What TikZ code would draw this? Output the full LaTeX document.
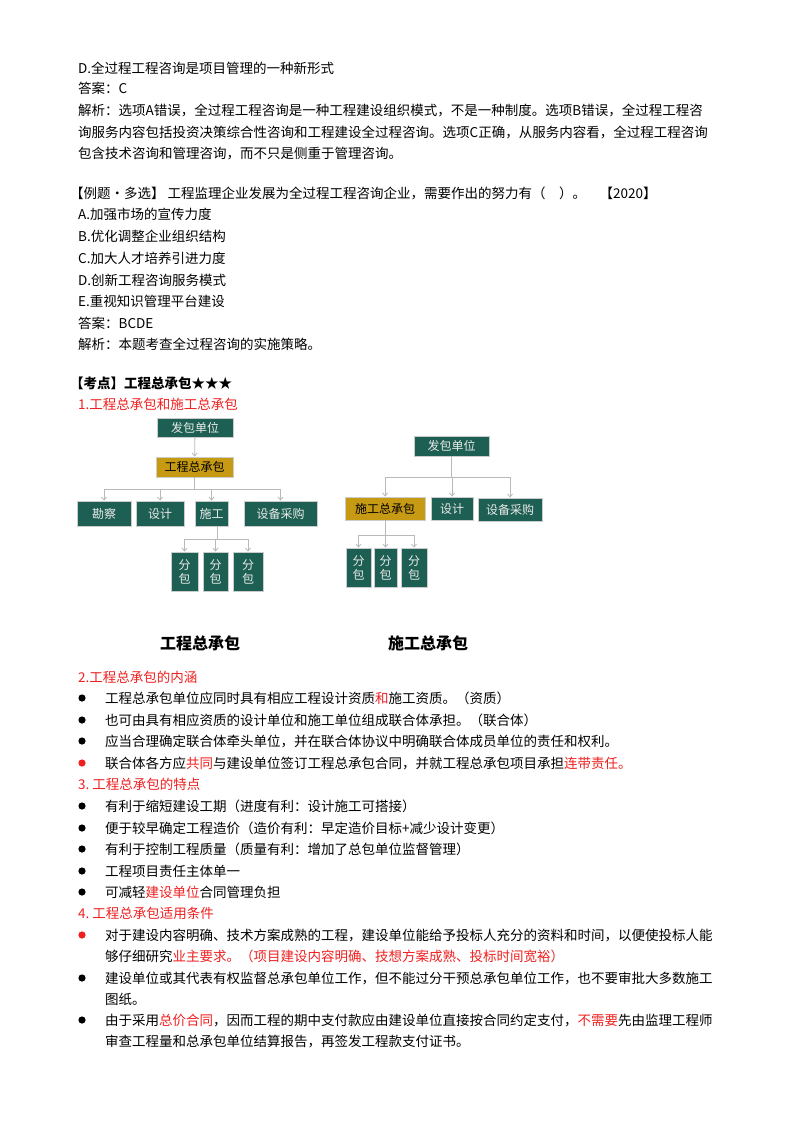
\documentclass[tikz,border=0pt]{standalone}
\usepackage{fontspec}
\setmainfont{Noto Sans CJK SC}
\usetikzlibrary{arrows.meta}
\definecolor{boxgreen}{HTML}{1D5F52}
\definecolor{boxgold}{HTML}{C69A12}
\definecolor{hl}{HTML}{F02020}
\tikzset{
	txt/.style={anchor=west, inner sep=0pt, font=\fontsize{13.5}{13.5}\selectfont},
	red/.style={txt, text=hl},
	box/.style={draw=gray!40, line width=0.8pt, fill=boxgreen, text=white!92!black, inner sep=0pt, font=\fontsize{12}{12}\selectfont},
	gbox/.style={box, fill=boxgold, text=black},
	con/.style={draw=gray!55, line width=0.8pt, -{Straight Barb[length=3pt,width=5pt]}},
}
\newcommand{\bul}[2][black]{\fill[#1] (82,#2) circle (3.6);}
\begin{document}
\begin{tikzpicture}[x=1pt, y=-1pt]
	\useasboundingbox[fill=white] (0,0) rectangle (800,1132);
	% question tail
	\node[txt] (d1) at (78,68) {D.全过程工程咨询是项目管理的一种新形式};
	\node[txt] (a1) at (78,88) {答案：C};
	\node[txt] (j1) at (78,110) {解析：选项A错误，全过程工程咨询是一种工程建设组织模式，不是一种制度。选项B错误，全过程工程咨};
	\node[txt] (j2) at (78,132) {询服务内容包括投资决策综合性咨询和工程建设全过程咨询。选项C正确，从服务内容看，全过程工程咨询};
	\node[txt] (j3) at (78,154) {包含技术咨询和管理咨询，而不只是侧重于管理咨询。};
	% example
	\node[txt] (q0) at (70,193) {【例题·多选】 工程监理企业发展为全过程工程咨询企业，需要作出的努力有（\quad）。\quad【2020】};
	\node[txt] (qa) at (78,214) {A.加强市场的宣传力度};
	\node[txt] (qb) at (78,236) {B.优化调整企业组织结构};
	\node[txt] (qc) at (78,258) {C.加大人才培养引进力度};
	\node[txt] (qd) at (78,280) {D.创新工程咨询服务模式};
	\node[txt] (qe) at (78,301) {E.重视知识管理平台建设};
	\node[txt] (a2) at (78,323) {答案：BCDE};
	\node[txt] (j4) at (78,344) {解析：本题考查全过程咨询的实施策略。};
	\node[txt, font=\fontsize{13.5}{13.5}\selectfont\bfseries] (kd) at (70,383) {【考点】工程总承包★★★};
	\node[red] (h1) at (78,404) {1.工程总承包和施工总承包};
	% left tree
	\node[box, minimum width=76, minimum height=19] (fbL) at (195,428) {发包单位};
	\node[gbox, minimum width=77, minimum height=20] (gz) at (194.5,467) {工程总承包};
	\node[box, minimum width=54, minimum height=25] (kc) at (104,513.5) {勘察};
	\node[box, minimum width=48, minimum height=25] (sjL) at (160,513.5) {设计};
	\node[box, minimum width=33, minimum height=25] (sg) at (211.5,513.5) {施工};
	\node[box, minimum width=73, minimum height=25] (cgL) at (280.5,513.5) {设备采购};
	\node[box, minimum width=27, minimum height=39, align=center] (fL1) at (184.5,571.5) {分\\[2pt]包};
	\node[box, minimum width=25, minimum height=39, align=center] (fL2) at (215.5,571.5) {分\\[2pt]包};
	\node[box, minimum width=30, minimum height=39, align=center] (fL3) at (248,571.5) {分\\[2pt]包};
	\draw[con] (fbL) -- (gz);
	\foreach \c in {kc,sjL,sg,cgL}
		\draw[con] (gz.south) -- ++(0,12) -| (\c.north);
	\foreach \c in {fL1,fL2,fL3}
		\draw[con] ([xshift=5.5pt]sg.south) -- ++(0,13) -| (\c.north);
	% right tree
	\node[box, minimum width=75, minimum height=20] (fbR) at (451.5,446) {发包单位};
	\node[gbox, minimum width=80, minimum height=23] (sz) at (385,508.5) {施工总承包};
	\node[box, minimum width=42, minimum height=23] (sjR) at (452,508.5) {设计};
	\node[box, minimum width=64, minimum height=23] (cgR) at (510,509.5) {设备采购};
	\node[box, minimum width=25, minimum height=39, align=center] (fR1) at (358.5,567.5) {分\\[2pt]包};
	\node[box, minimum width=23, minimum height=39, align=center] (fR2) at (385.5,567.5) {分\\[2pt]包};
	\node[box, minimum width=26, minimum height=39, align=center] (fR3) at (414,567.5) {分\\[2pt]包};
	\foreach \c in {sz,sjR,cgR}
		\draw[con] (fbR.south) -- ++(0,21) -| (\c.north);
	\foreach \c in {fR1,fR2,fR3}
		\draw[con] (sz.south) -- ++(0,15) -| (\c.north);
	\node[font=\fontsize{16}{16}\selectfont\bfseries] (capL) at (200,643) {工程总承包};
	\node[font=\fontsize{16}{16}\selectfont\bfseries] (capR) at (428,643) {施工总承包};
	% section 2
	\node[red] (h2) at (78,677) {2.工程总承包的内涵};
	\bul{698} \node[txt] (b1) at (105,698) {工程总承包单位应同时具有相应工程设计资质\textcolor{hl}{和}施工资质。（资质）};
	\bul{720} \node[txt] (b2) at (105,720) {也可由具有相应资质的设计单位和施工单位组成联合体承担。（联合体）};
	\bul{741} \node[txt] (b3) at (105,741) {应当合理确定联合体牵头单位，并在联合体协议中明确联合体成员单位的责任和权利。};
	\bul[hl]{763} \node[txt] (b4) at (105,763) {联合体各方应\textcolor{hl}{共同}与建设单位签订工程总承包合同，并就工程总承包项目承担\textcolor{hl}{连带责任。}};
	% section 3
	\node[red] (h3) at (78,784) {3.\ 工程总承包的特点};
	\bul{806} \node[txt] (c1) at (105,806) {有利于缩短建设工期（进度有利：设计施工可搭接）};
	\bul{828} \node[txt] (c2) at (105,828) {便于较早确定工程造价（造价有利：早定造价目标+减少设计变更）};
	\bul{849} \node[txt] (c3) at (105,849) {有利于控制工程质量（质量有利：增加了总包单位监督管理）};
	\bul{871} \node[txt] (c4) at (105,871) {工程项目责任主体单一};
	\bul{892} \node[txt] (c5) at (105,892) {可减轻\textcolor{hl}{建设单位}合同管理负担};
	% section 4
	\node[red] (h4) at (78,913) {4.\ 工程总承包适用条件};
	\bul[hl]{935} \node[txt] (e1) at (105,935) {对于建设内容明确、技术方案成熟的工程，建设单位能给予投标人充分的资料和时间，以便使投标人能};
	\node[txt] (e1b) at (105,956) {够仔细研究\textcolor{hl}{业主要求。（项目建设内容明确、技想方案成熟、投标时间宽裕）}};
	\bul{978} \node[txt] (e2) at (105,978) {建设单位或其代表有权监督总承包单位工作，但不能过分干预总承包单位工作，也不要审批大多数施工};
	\node[txt] (e2b) at (105,999) {图纸。};
	\bul{1020} \node[txt] (e3) at (105,1020) {由于采用\textcolor{hl}{总价合同}，因而工程的期中支付款应由建设单位直接按合同约定支付，\textcolor{hl}{不需要}先由监理工程师};
	\node[txt] (e3b) at (105,1041) {审查工程量和总承包单位结算报告，再签发工程款支付证书。};
\end{tikzpicture}
\end{document}
